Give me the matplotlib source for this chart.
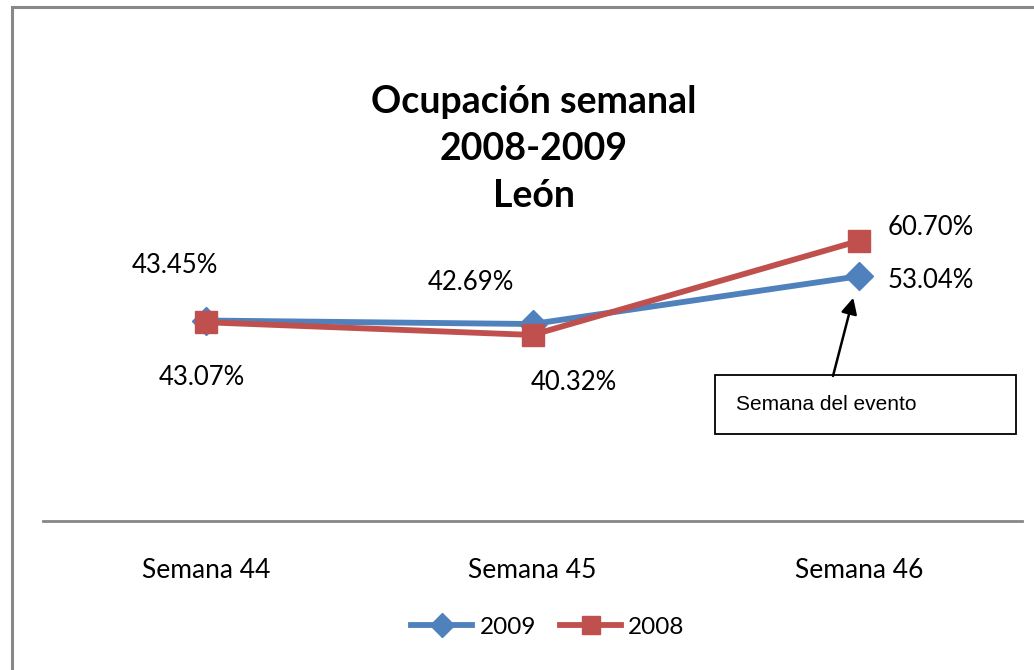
import matplotlib
matplotlib.use("Agg")
import matplotlib.pyplot as plt
from matplotlib.patches import Rectangle

# Datos del gráfico
categories = ["Semana 44", "Semana 45", "Semana 46"]
occ_2009 = [43.45, 42.69, 53.04]
occ_2008 = [43.07, 40.32, 60.70]
labels_2009 = ["43.45%", "42.69%", "53.04%"]
labels_2008 = ["43.07%", "40.32%", "60.70%"]

BLUE = "#4F81BD"
RED = "#C0504D"
GRAY = "#868686"
W, H = 1034, 670

plt.rcParams["font.family"] = ["Lato", "DejaVu Sans"]

fig = plt.figure(figsize=(W / 100, H / 100), dpi=100)
ax = fig.add_axes([43 / W, (H - 521) / H, (1022 - 43) / W, (521 - 198) / H])

x = list(range(len(categories)))
ax.plot(x, occ_2009, color=BLUE, lw=4.2, marker="D", ms=14, label="2009", zorder=3)
ax.plot(x, occ_2008, color=RED, lw=4.2, marker="s", ms=15.5, label="2008", zorder=4)

ax.set_xlim(-0.5, 2.5)
ax.set_ylim(0, 70)
ax.set_yticks([])
ax.set_xticks(x)
ax.set_xticklabels(categories, fontsize=19)
ax.tick_params(axis="x", length=0, pad=27)
for side in ["top", "right", "left"]:
    ax.spines[side].set_visible(False)
ax.spines["bottom"].set_color(GRAY)
ax.spines["bottom"].set_linewidth(2)
ax.patch.set_alpha(0)

# Etiquetas de datos (posiciones ajustadas a mano como en el original)
offsets_2009 = [(-31, 55), (-62, 42), (72, -4)]
offsets_2008 = [(-4, -55), (41, -48), (72, 13)]
for i in x:
    ax.annotate(labels_2009[i], (i, occ_2009[i]), xytext=offsets_2009[i],
                textcoords="offset pixels", ha="center", va="center", fontsize=18.5)
    ax.annotate(labels_2008[i], (i, occ_2008[i]), xytext=offsets_2008[i],
                textcoords="offset pixels", ha="center", va="center", fontsize=18.5)

fig.text(0.516, (H - 149) / H, "Ocupación semanal\n2008-2009\nLeón", ha="center",
         va="center", fontsize=27, fontweight="bold", linespacing=1.45)

# Cuadro de la anotación
fig.patches.append(Rectangle((715 / W, (H - 434) / H), 301 / W, 59 / H,
                             transform=fig.transFigure, fill=False,
                             edgecolor="black", lw=1.3))
fig.text(736 / W, (H - 404) / H, "Semana del evento", ha="left", va="center",
         fontsize=15, family="Liberation Sans")
ax.annotate("", xy=(2, occ_2009[2]), xytext=(833, H - 376),
            textcoords="figure pixels",
            arrowprops=dict(arrowstyle="-|>", color="black", lw=1.8,
                            mutation_scale=24, shrinkA=0, shrinkB=16))

fig.legend(loc="center", bbox_to_anchor=(548 / W, (H - 627) / H), ncol=2,
           frameon=False, fontsize=17.5, handlelength=2.5, columnspacing=1.0,
           handletextpad=0.3, markerscale=0.85)

# Borde del gráfico
fig.patches.append(Rectangle((12 / W, -0.05), 1.1, (H - 7) / H + 0.05,
                             transform=fig.transFigure, fill=False,
                             edgecolor="#888888", lw=2.2))

fig.savefig("out.png", dpi=100)
